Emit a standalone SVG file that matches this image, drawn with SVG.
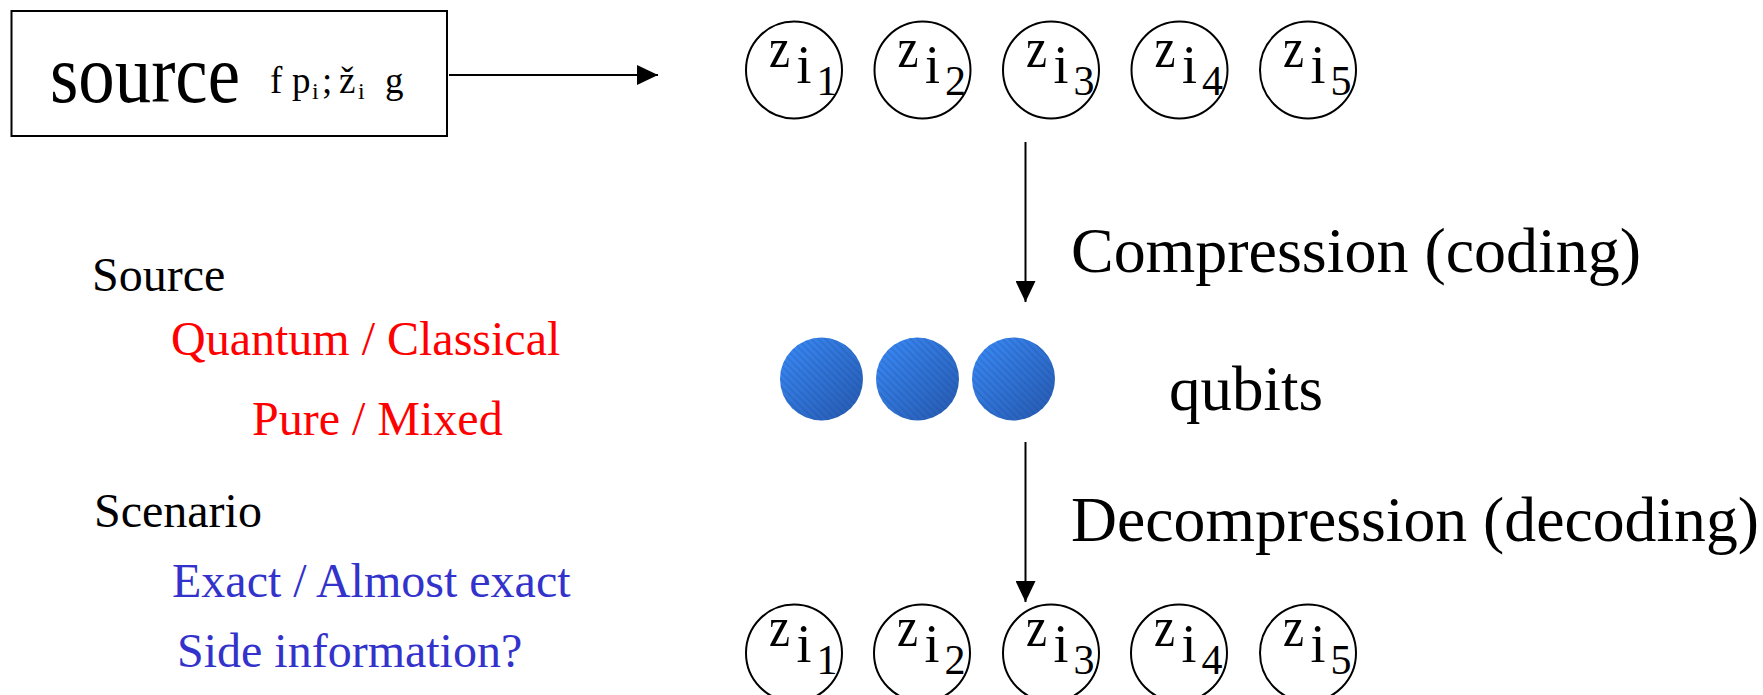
<svg xmlns="http://www.w3.org/2000/svg" width="1763" height="695" viewBox="0 0 1763 695">
<style>
text{font-family:"Liberation Serif","Times New Roman",serif;fill:#000}
.ell{fill:#fff;stroke:#000;stroke-width:2}
.z{font-size:56px}
.i{font-size:54px}
.d{font-size:42px}
.lbl{font-size:48px}
.red{fill:#FF0000}
.blue{fill:#3333CC}
.big{font-size:64px}
.conn{stroke:#000;stroke-width:2;fill:none}
</style>
<defs>
<marker id="ah" markerWidth="21" markerHeight="20" refX="21" refY="10" orient="auto" markerUnits="userSpaceOnUse">
<path d="M0,0 L21,10 L0,20 Z" fill="#000"/>
</marker>
<linearGradient id="bg" x1="0" y1="0" x2="1" y2="1">
<stop offset="0" stop-color="#3A8CFA"/>
<stop offset="1" stop-color="#2558AE"/>
</linearGradient>
<pattern id="stripe" width="5" height="5" patternUnits="userSpaceOnUse" patternTransform="rotate(45)">
<rect width="5" height="2" fill="#1a3f80" opacity="0.18"/>
</pattern>
</defs>

<g id="source">
<rect x="11.5" y="11" width="435.5" height="125" fill="#fff" stroke="#000" stroke-width="2"/>
<text x="50" y="102" font-size="82" textLength="190" lengthAdjust="spacingAndGlyphs">source</text>
<text x="270" y="93" font-size="37">f</text>
<text x="292" y="93" font-size="37">p</text>
<text x="312" y="99" font-size="24">i</text>
<text x="322" y="93" font-size="37">;</text>
<text x="339" y="93" font-size="37">ž</text>
<text x="358" y="99" font-size="24">i</text>
<text x="385" y="93" font-size="37">g</text>
</g>

<g id="top-states">
<g id="t1"><ellipse class="ell" cx="794" cy="70" rx="48" ry="48.5"/><text class="z" x="769" y="67" textLength="21" lengthAdjust="spacingAndGlyphs">z</text><text class="i" x="796.5" y="83">i</text><text class="d" x="816.5" y="95">1</text></g>
<g id="t2"><ellipse class="ell" cx="922.5" cy="70" rx="48" ry="48.5"/><text class="z" x="897.5" y="67" textLength="21" lengthAdjust="spacingAndGlyphs">z</text><text class="i" x="925" y="83">i</text><text class="d" x="945" y="95">2</text></g>
<g id="t3"><ellipse class="ell" cx="1051" cy="70" rx="48" ry="48.5"/><text class="z" x="1026" y="67" textLength="21" lengthAdjust="spacingAndGlyphs">z</text><text class="i" x="1053.5" y="83">i</text><text class="d" x="1073.5" y="95">3</text></g>
<g id="t4"><ellipse class="ell" cx="1179.5" cy="70" rx="48" ry="48.5"/><text class="z" x="1154.5" y="67" textLength="21" lengthAdjust="spacingAndGlyphs">z</text><text class="i" x="1182" y="83">i</text><text class="d" x="1202" y="95">4</text></g>
<g id="t5"><ellipse class="ell" cx="1308" cy="70" rx="48" ry="48.5"/><text class="z" x="1283" y="67" textLength="21" lengthAdjust="spacingAndGlyphs">z</text><text class="i" x="1310.5" y="83">i</text><text class="d" x="1330.5" y="95">5</text></g>
</g>

<g id="qubits">
<circle cx="821.5" cy="379" r="41.5" fill="url(#bg)"/><circle cx="821.5" cy="379" r="41.5" fill="url(#stripe)"/>
<circle cx="917.5" cy="379" r="41.5" fill="url(#bg)"/><circle cx="917.5" cy="379" r="41.5" fill="url(#stripe)"/>
<circle cx="1013.5" cy="379" r="41.5" fill="url(#bg)"/><circle cx="1013.5" cy="379" r="41.5" fill="url(#stripe)"/>
<text class="big" x="1169" y="410" textLength="154" lengthAdjust="spacingAndGlyphs">qubits</text>
</g>

<g id="bottom-states">
<g id="b1"><ellipse class="ell" cx="794" cy="653" rx="48" ry="48.5"/><text class="z" x="769" y="646" textLength="21" lengthAdjust="spacingAndGlyphs">z</text><text class="i" x="796.5" y="662">i</text><text class="d" x="816.5" y="674">1</text></g>
<g id="b2"><ellipse class="ell" cx="922" cy="653" rx="48" ry="48.5"/><text class="z" x="897" y="646" textLength="21" lengthAdjust="spacingAndGlyphs">z</text><text class="i" x="924.5" y="662">i</text><text class="d" x="944.5" y="674">2</text></g>
<g id="b3"><ellipse class="ell" cx="1051" cy="653" rx="48" ry="48.5"/><text class="z" x="1026" y="646" textLength="21" lengthAdjust="spacingAndGlyphs">z</text><text class="i" x="1053.5" y="662">i</text><text class="d" x="1073.5" y="674">3</text></g>
<g id="b4"><ellipse class="ell" cx="1179" cy="653" rx="48" ry="48.5"/><text class="z" x="1154" y="646" textLength="21" lengthAdjust="spacingAndGlyphs">z</text><text class="i" x="1181.5" y="662">i</text><text class="d" x="1201.5" y="674">4</text></g>
<g id="b5"><ellipse class="ell" cx="1308" cy="653" rx="48" ry="48.5"/><text class="z" x="1283" y="646" textLength="21" lengthAdjust="spacingAndGlyphs">z</text><text class="i" x="1310.5" y="662">i</text><text class="d" x="1330.5" y="674">5</text></g>
</g>

<g id="connectors">
<line class="conn" x1="449" y1="75" x2="658" y2="75" marker-end="url(#ah)"/>
<line class="conn" x1="1025.5" y1="142" x2="1025.5" y2="302" marker-end="url(#ah)"/>
<line class="conn" x1="1025.5" y1="442" x2="1025.5" y2="602" marker-end="url(#ah)"/>
</g>

<g id="labels">
<text class="big" x="1071" y="272" textLength="570" lengthAdjust="spacingAndGlyphs">Compression (coding)</text>
<text class="big" x="1071" y="541" textLength="688" lengthAdjust="spacingAndGlyphs">Decompression (decoding)</text>
</g>

<g id="notes">
<text class="lbl" x="92" y="291">Source</text>
<text class="lbl red" x="171" y="355">Quantum / Classical</text>
<text class="lbl red" x="252" y="435">Pure / Mixed</text>
<text class="lbl" x="94" y="527">Scenario</text>
<text class="lbl blue" x="172" y="597">Exact / Almost exact</text>
<text class="lbl blue" x="177" y="667">Side information?</text>
</g>
</svg>
